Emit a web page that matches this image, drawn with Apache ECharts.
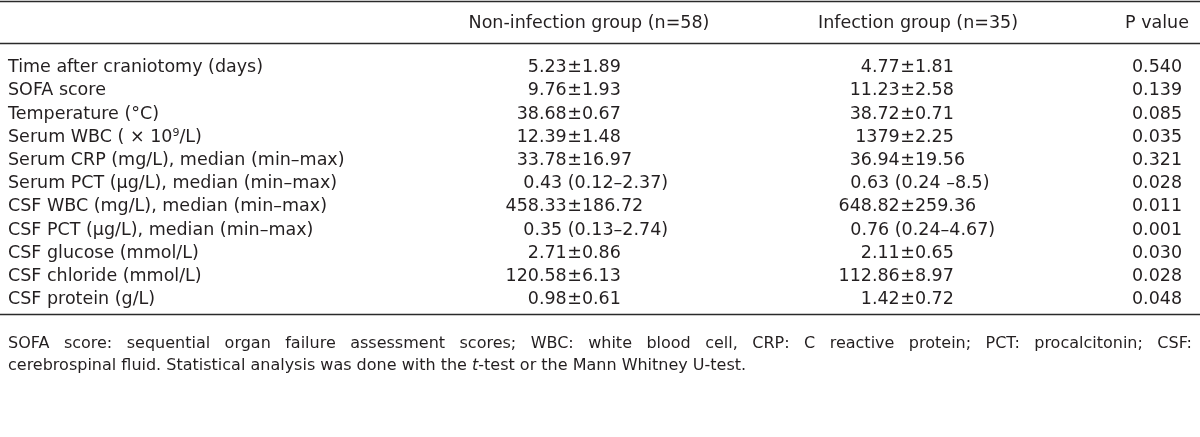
<!DOCTYPE html>
<html><head><meta charset="utf-8">
<script src="https://cdn.jsdelivr.net/npm/echarts@6/dist/echarts.min.js"></script>
<style>html,body{margin:0;padding:0;background:#fff}#c{width:1200px;height:437px}</style>
</head><body><div id="c"></div>
<script>
// ---- data ----
const headers = ['Non-infection group (n=58)', 'Infection group (n=35)', 'P value'];
const rowLabels = [
  'Time after craniotomy (days)',
  'SOFA score',
  'Temperature (°C)',
  'Serum WBC ( × 10⁹/L)',
  'Serum CRP (mg/L), median (min–max)',
  'Serum PCT (μg/L), median (min–max)',
  'CSF WBC (mg/L), median (min–max)',
  'CSF PCT (μg/L), median (min–max)',
  'CSF glucose (mmol/L)',
  'CSF chloride (mmol/L)',
  'CSF protein (g/L)'
];
const nonInfection = ['5.23±1.89','9.76±1.93','38.68±0.67','12.39±1.48','33.78±16.97','0.43 (0.12–2.37)','458.33±186.72','0.35 (0.13–2.74)','2.71±0.86','120.58±6.13','0.98±0.61'];
const infection = ['4.77±1.81','11.23±2.58','38.72±0.71','1379±2.25','36.94±19.56','0.63 (0.24 –8.5)','648.82±259.36','0.76 (0.24–4.67)','2.11±0.65','112.86±8.97','1.42±0.72'];
const pValues = ['0.540','0.139','0.085','0.035','0.321','0.028','0.011','0.001','0.030','0.028','0.048'];
const footLine1 = 'SOFA score: sequential organ failure assessment scores; WBC: white blood cell, CRP: C reactive protein; PCT: procalcitonin; CSF:';
const footLine2 = ['cerebrospinal fluid. Statistical analysis was done with the ', 't', '-test or the Mann Whitney U-test.'];

// ---- layout / style ----
const FF = '"DejaVu Sans", sans-serif';
const FS = 17.5;
const FOOT_FS = 16;
const INK = '#231f20';
const layout = {
  headerX: [589, 918, 1157],
  pmAnchor: [567, 900],
  medLeft: [523, 850],
  pX: 1157,
  rowTop: 56, rowH: 23.2,
  rules: [1.5, 43.5, 314.5],
  footY: [344, 366], footX0: 8, footX1: 1192
};

const hidden = { type: 'scatter', symbolSize: 0.5, itemStyle: { color: '#ffffff', opacity: 1 }, silent: true };

function cellSeries(col, values) {
  const left = [], right = [];
  values.forEach((v, i) => {
    const k = v.indexOf('±');
    if (k >= 0) {
      left.push({ value: [layout.pmAnchor[col], i], txt: v.slice(0, k) });
      right.push({ value: [layout.pmAnchor[col], i], txt: v.slice(k) });
    } else {
      right.push({ value: [layout.medLeft[col], i], txt: v });
    }
  });
  const lab = (pos) => ({ show: true, position: pos, distance: 0, formatter: p => p.data.txt, fontFamily: FF, fontSize: FS, color: INK, opacity: 1 });
  return [
    Object.assign({}, hidden, { xAxisIndex: 0, yAxisIndex: 0, data: left, label: lab('left') }),
    Object.assign({}, hidden, { xAxisIndex: 0, yAxisIndex: 0, data: right, label: lab('right') })
  ];
}

const series = [
  ...cellSeries(0, nonInfection),
  ...cellSeries(1, infection),
  Object.assign({}, hidden, { xAxisIndex: 0, yAxisIndex: 0,
    data: pValues.map((v, i) => ({ value: [layout.pX, i], txt: v })),
    label: { show: true, position: 'inside', formatter: p => p.data.txt, fontFamily: FF, fontSize: FS, color: INK, opacity: 1 } }),
  Object.assign({}, hidden, { xAxisIndex: 1, yAxisIndex: 1,
    data: headers.map((h, i) => ({ value: [layout.headerX[i], 0], txt: h })),
    label: { show: true, position: 'inside', formatter: p => p.data.txt, fontFamily: FF, fontSize: FS, color: INK, opacity: 1 } })
];

// footnote, line 1 justified
const cv = document.createElement('canvas').getContext('2d');
cv.font = FOOT_FS + 'px ' + FF;
const words = footLine1.split(' ');
const widths = words.map(w => cv.measureText(w).width);
const totalW = widths.reduce((a, b) => a + b, 0);
const gap = (layout.footX1 - layout.footX0 - totalW) / (words.length - 1);
const graphics = [];
let gx = layout.footX0;
words.forEach((w, i) => {
  graphics.push({ type: 'text', x: gx, y: layout.footY[0], silent: true,
    style: { text: w, fontFamily: FF, fontSize: FOOT_FS, fill: INK, align: 'left', verticalAlign: 'middle' } });
  gx += widths[i] + gap;
});
graphics.push({ type: 'text', x: layout.footX0, y: layout.footY[1], silent: true,
  style: { text: '{n|' + footLine2[0] + '}{i|' + footLine2[1] + '}{n|' + footLine2[2] + '}',
    fontFamily: FF, fontSize: FOOT_FS, fill: INK, align: 'left', verticalAlign: 'middle',
    rich: { n: { fontFamily: FF, fontSize: FOOT_FS, color: INK }, i: { fontFamily: FF, fontSize: FOOT_FS, fontStyle: 'italic', color: INK } } } });
layout.rules.forEach(y => graphics.push({ type: 'line', silent: true, shape: { x1: 0, y1: y, x2: 1200, y2: y }, style: { stroke: '#2a2a2a', lineWidth: 1.5 } }));

const chart = echarts.init(document.getElementById('c'), null, { renderer: 'canvas' });
chart.setOption({
  animation: false,
  backgroundColor: '#fff',
  grid: [
    { left: 0, right: 0, top: layout.rowTop, height: layout.rowH * rowLabels.length },
    { left: 0, right: 0, top: 1, height: 44 }
  ],
  xAxis: [
    { type: 'value', min: 0, max: 1200, show: false, gridIndex: 0 },
    { type: 'value', min: 0, max: 1200, show: false, gridIndex: 1 }
  ],
  yAxis: [
    { type: 'category', gridIndex: 0, data: rowLabels, inverse: true,
      axisLine: { show: false }, axisTick: { show: false }, splitLine: { show: false },
      axisLabel: { interval: 0, inside: true, margin: 8, align: 'left', fontFamily: FF, fontSize: FS, color: INK,
        formatter: v => v.replace('⁹', '{sup|9}'),
        rich: { sup: { fontFamily: FF, fontSize: 11, color: INK, padding: [0, 0, 9, 0] } } } },
    { type: 'category', gridIndex: 1, data: ['header'], show: false }
  ],
  series: series,
  graphic: graphics
});
</script></body></html>
